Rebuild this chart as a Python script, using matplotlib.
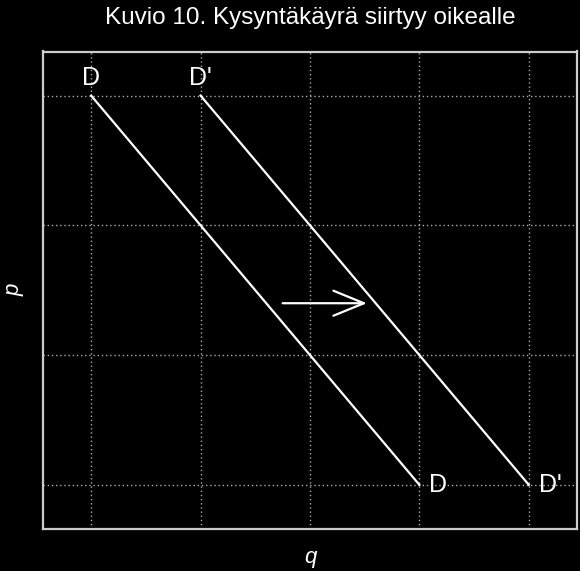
import numpy as np
import matplotlib
matplotlib.use("Agg")
import matplotlib.pyplot as plt

# demand curves (q, p) endpoints
d_q = [1, 4]
d_p = [4, 1]
d2_q = [2, 5]
d2_p = [4, 1]
grid_q = [1, 2, 3, 4, 5]
grid_p = [1, 2, 3, 4]
arrow_from = (2.75, 2.40)
arrow_to = (3.52, 2.40)

title = "Kuvio 10. Kysyntäkäyrä siirtyy oikealle"

plt.rcParams['font.family'] = ['Liberation Sans', 'DejaVu Sans']

fig = plt.figure(figsize=(5.8, 5.71), dpi=100, facecolor="black")
ax = fig.add_axes([43/580, 42/571, 534/580, 477.5/571])
ax.set_facecolor("black")

ax.plot(d_q, d_p, color="white", lw=1.6)
ax.plot(d2_q, d2_p, color="white", lw=1.6)

ax.annotate("", xy=arrow_to, xytext=arrow_from,
            arrowprops=dict(arrowstyle="->,head_length=2.2,head_width=0.9",
                            color="white", lw=1.6, shrinkA=0, shrinkB=0))

# curve labels
lab = dict(color="white", fontsize=18)
ax.text(d_q[0], d_p[0] + 0.04, "D", ha="center", va="bottom", **lab)
ax.text(d2_q[0], d2_p[0] + 0.04, "D'", ha="center", va="bottom", **lab)
ax.text(d_q[1] + 0.09, d_p[1], "D", ha="left", va="center", **lab)
ax.text(d2_q[1] + 0.09, d2_p[1], "D'", ha="left", va="center", **lab)

ax.set_xlim(0.56, 5.44)
ax.set_ylim(0.66, 4.34)
ax.set_xticks(grid_q)
ax.set_yticks(grid_p)
ax.tick_params(length=0, labelbottom=False, labelleft=False)
ax.grid(True, color="#aaaaaa", linestyle=(0, (1, 2)), lw=1)
for s in ax.spines.values():
    s.set_color("#cccccc")
    s.set_linewidth(1.6)

ax.set_xlabel("q", color="white", fontsize=16, style="italic", labelpad=13)
ax.set_ylabel("p", color="white", fontsize=16, style="italic", labelpad=13)
ax.set_title(title, color="white", fontsize=17.5, pad=20)

fig.savefig("out.png", dpi=100, facecolor="black")
